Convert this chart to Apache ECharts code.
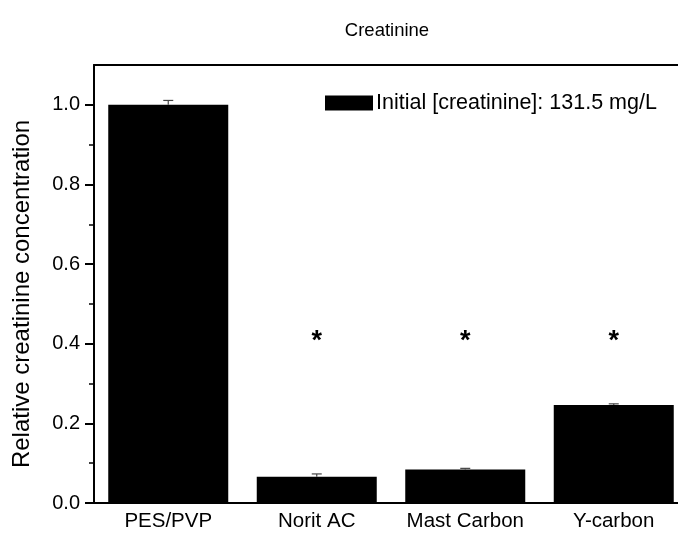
<!DOCTYPE html>
<html><head><meta charset="utf-8">
<script src="https://cdn.jsdelivr.net/npm/echarts@6/dist/echarts.min.js"></script>
<style>html,body{margin:0;padding:0;background:#fff}#c{width:678px;height:538px}</style>
</head><body><div id="c"></div>
<script>
const categories = ['PES/PVP', 'Norit AC', 'Mast Carbon', 'Y-carbon'];
const values = [1.0, 0.066, 0.084, 0.246];
const errors = [0.011, 0.007, 0.003, 0.003];
const marks = ['', '*', '*', '*'];
const markY = 0.405;
const majorTicks = [0, 0.2, 0.4, 0.6, 0.8, 1.0];
const minorTicks = [0.1, 0.3, 0.5, 0.7, 0.9];
const seriesName = 'Initial [creatinine]: 131.5 mg/L';
const titleText = 'Creatinine';
const yName = 'Relative creatinine concentration';

const FONT = 'Liberation Sans, Arial, sans-serif';
const chart = echarts.init(document.getElementById('c'), null, {renderer: 'canvas'});
const lineStyle = {color: '#000', width: 2};
chart.setOption({
  animation: false,
  backgroundColor: '#fff',
  title: {text: titleText, left: 382, top: 16, textAlign: 'center',
    textStyle: {fontFamily: FONT, fontSize: 18.5, fontWeight: 'normal', color: '#000'}},
  legend: {left: 320, top: 87, itemWidth: 48, itemHeight: 15, itemGap: 5,
    icon: 'rect', data: [seriesName],
    textStyle: {fontFamily: FONT, fontSize: 21.5, color: '#000', padding: [0, 0, 0, -2]}},
  grid: {left: 94, top: 65, width: 594, height: 438, containLabel: false, outerBoundsMode: 'none'},
  xAxis: [
    {type: 'category', data: categories, position: 'bottom',
      axisLine: {lineStyle}, axisTick: {alignWithLabel: true, length: 8, lineStyle: {width: 2}},
      axisLabel: {fontFamily: FONT, fontSize: 20.5, color: '#000', margin: 8, interval: 0}},
    {type: 'category', data: categories, position: 'bottom',
      axisLine: {show: false}, axisTick: {length: 4, lineStyle: {width: 1.5, color: '#000'}},
      axisLabel: {show: false}},
    {type: 'category', data: categories, position: 'top',
      axisLine: {lineStyle}, axisTick: {alignWithLabel: true, inside: true, length: 9, lineStyle: {width: 2}},
      axisLabel: {show: false}},
    {type: 'category', data: categories, position: 'top',
      axisLine: {show: false}, axisTick: {inside: true, length: 4, lineStyle: {width: 1.5, color: '#000'}},
      axisLabel: {show: false}}
  ],
  yAxis: [
    {type: 'value', min: 0, max: 1.1, position: 'left',
      name: yName, nameLocation: 'middle', nameRotate: 90, nameGap: 60,
      nameTextStyle: {fontFamily: FONT, fontSize: 24, color: '#000', padding: [0, 20, 0, 0]},
      axisLine: {show: true, lineStyle},
      axisTick: {show: true, length: 9, lineStyle: {width: 2}, customValues: majorTicks},
      axisLabel: {fontFamily: FONT, fontSize: 20, color: '#000', margin: 14,
        customValues: majorTicks, formatter: v => v.toFixed(1)},
      splitLine: {show: false}},
    {type: 'value', min: 0, max: 1.1, position: 'left',
      axisLine: {show: false},
      axisTick: {show: true, length: 5, lineStyle: {width: 1.5, color: '#000'}, customValues: minorTicks},
      axisLabel: {show: false}, splitLine: {show: false}}
  ],
  series: [
    {name: seriesName, type: 'bar', data: values, barWidth: 120,
      itemStyle: {color: '#000'}},
    {type: 'custom', xAxisIndex: 0, yAxisIndex: 0, z: 5,
      data: values.map((v, i) => [i, v, errors[i]]),
      renderItem: (params, api) => {
        const i = api.value(0), v = api.value(1), e = api.value(2);
        const top = api.coord([i, v + e]);
        const base = api.coord([i, v]);
        const hw = 5;
        return {type: 'group', children: [
          {type: 'line', shape: {x1: top[0], y1: top[1], x2: base[0], y2: base[1]},
            style: {stroke: '#444', lineWidth: 1.2}},
          {type: 'line', shape: {x1: top[0] - hw, y1: top[1], x2: top[0] + hw, y2: top[1]},
            style: {stroke: '#444', lineWidth: 1.2}}
        ]};
      }},
    {type: 'custom', xAxisIndex: 0, yAxisIndex: 0, z: 6,
      data: marks.map((m, i) => [i, markY, m]),
      renderItem: (params, api) => {
        const p = api.coord([api.value(0), api.value(1)]);
        return {type: 'text', x: p[0], y: p[1],
          style: {text: marks[params.dataIndex], fontFamily: FONT, fontSize: 27, fontWeight: 'bold',
            fill: '#000', align: 'center', verticalAlign: 'middle'}};
      }}
  ]
});
</script></body></html>
